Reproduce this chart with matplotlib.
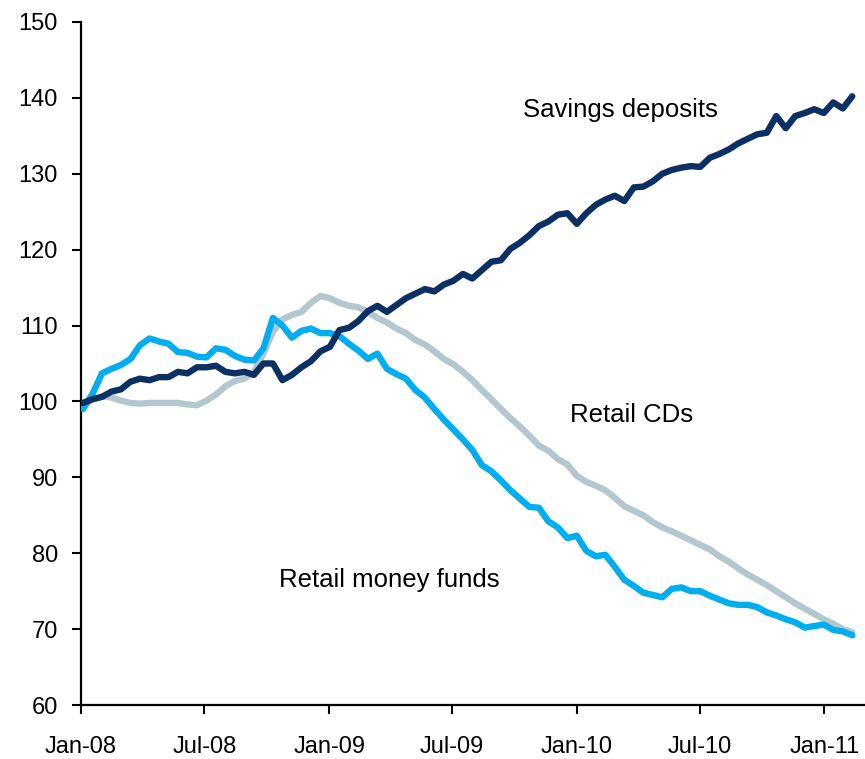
import numpy as np
import pandas as pd
import matplotlib
matplotlib.use("Agg")
import matplotlib.pyplot as plt
import matplotlib.dates as mdates

# ── Data (index, Jan-08 = 100, biweekly readings) ─────────────────────────────
dates = pd.date_range("2008-01-04", periods=82, freq="14D")

savings_deposits = [
    99.8, 100.3, 100.6, 101.3, 101.6, 102.6, 103.0, 102.8, 103.2, 103.2,
    103.9, 103.7, 104.5, 104.5, 104.7, 103.9, 103.7, 103.9, 103.5, 105.0,
    105.0, 102.8, 103.5, 104.5, 105.3, 106.6, 107.2, 109.4, 109.7, 110.6,
    111.9, 112.6, 111.8, 112.7, 113.6, 114.2, 114.8, 114.5, 115.4, 115.9,
    116.8, 116.2, 117.3, 118.4, 118.6, 120.1, 120.9, 121.9, 123.1, 123.7,
    124.6, 124.8, 123.4, 124.8, 125.9, 126.6, 127.1, 126.4, 128.2, 128.3,
    129.0, 130.0, 130.5, 130.8, 131.0, 130.9, 132.1, 132.6, 133.2, 134.0,
    134.6, 135.2, 135.4, 137.6, 136.0, 137.6, 138.0, 138.5, 138.0, 139.4,
    138.6, 140.2,
]

retail_money_funds = [
    99.0, 101.0, 103.7, 104.3, 104.8, 105.6, 107.4, 108.3, 107.9, 107.6,
    106.5, 106.4, 105.9, 105.8, 107.0, 106.8, 106.0, 105.5, 105.4, 107.0,
    111.0, 110.0, 108.4, 109.3, 109.6, 109.0, 109.0, 108.6, 107.6, 106.7,
    105.6, 106.3, 104.3, 103.6, 103.0, 101.5, 100.5, 99.0, 97.6, 96.3,
    95.0, 93.6, 91.6, 90.8, 89.6, 88.3, 87.2, 86.1, 86.0, 84.2,
    83.4, 82.0, 82.3, 80.3, 79.6, 79.8, 78.2, 76.5, 75.7, 74.8,
    74.5, 74.2, 75.3, 75.5, 75.0, 75.0, 74.4, 73.9, 73.4, 73.2,
    73.2, 72.9, 72.2, 71.8, 71.3, 70.9, 70.2, 70.4, 70.6, 69.9,
    69.7, 69.2,
]

retail_cds = [
    99.6, 100.2, 100.7, 100.5, 100.1, 99.8, 99.7, 99.8, 99.8, 99.8,
    99.8, 99.6, 99.5, 100.1, 100.9, 102.0, 102.7, 103.0, 103.9, 106.3,
    109.2, 110.8, 111.4, 111.8, 113.0, 113.9, 113.6, 113.0, 112.6, 112.4,
    111.8, 111.0, 110.4, 109.6, 109.0, 108.1, 107.5, 106.6, 105.6, 104.9,
    103.9, 102.8, 101.5, 100.3, 99.0, 97.8, 96.7, 95.5, 94.2, 93.5,
    92.4, 91.7, 90.2, 89.4, 88.9, 88.3, 87.3, 86.2, 85.6, 85.0,
    84.1, 83.4, 82.9, 82.3, 81.7, 81.1, 80.5, 79.6, 78.9, 78.0,
    77.2, 76.5, 75.8, 75.0, 74.2, 73.4, 72.7, 72.0, 71.3, 70.7,
    70.0, 69.6,
]

# ── Plotting ──────────────────────────────────────────────────────────────────
plt.rcParams["font.family"] = ["Liberation Sans", "DejaVu Sans"]

NAVY  = "#0c3064"
BLUE  = "#00aeef"
GREY  = "#b4c7ce"

fig = plt.figure(figsize=(8.65, 7.59), dpi=100)
ax = fig.add_axes([0.0936, 0.0711, 0.905, 0.9])

ax.plot(dates, retail_cds, color=GREY, linewidth=4.6, solid_capstyle="round", zorder=2)
ax.plot(dates, retail_money_funds, color=BLUE, linewidth=4.6, solid_capstyle="round", zorder=3)
ax.plot(dates, savings_deposits, color=NAVY, linewidth=4.6, solid_capstyle="round", zorder=4)

ax.text(pd.Timestamp("2010-03-06"), 138.4, "Savings deposits", fontsize=18.5,
        ha="center", va="center")
ax.text(pd.Timestamp("2010-03-22"), 98.2, "Retail CDs", fontsize=18.5,
        ha="center", va="center")
ax.text(pd.Timestamp("2009-03-31"), 76.5, "Retail money funds", fontsize=18.5,
        ha="center", va="center")

ax.set_ylim(60, 150)
ax.set_yticks(np.arange(60, 151, 10))
ax.set_xlim(pd.Timestamp("2008-01-01"), pd.Timestamp("2011-02-28"))
ax.xaxis.set_major_locator(mdates.MonthLocator(bymonth=[1, 7]))
ax.xaxis.set_major_formatter(mdates.DateFormatter("%b-%y"))

ax.spines[["top", "right"]].set_visible(False)
ax.spines["left"].set_linewidth(1.6)
ax.spines["bottom"].set_linewidth(1.6)
ax.tick_params(axis="both", direction="out", length=6.5, width=1.5,
               labelsize=17, colors="black")
ax.tick_params(axis="x", pad=16)
ax.tick_params(axis="y", pad=10)

fig.savefig("out.png", dpi=100)
